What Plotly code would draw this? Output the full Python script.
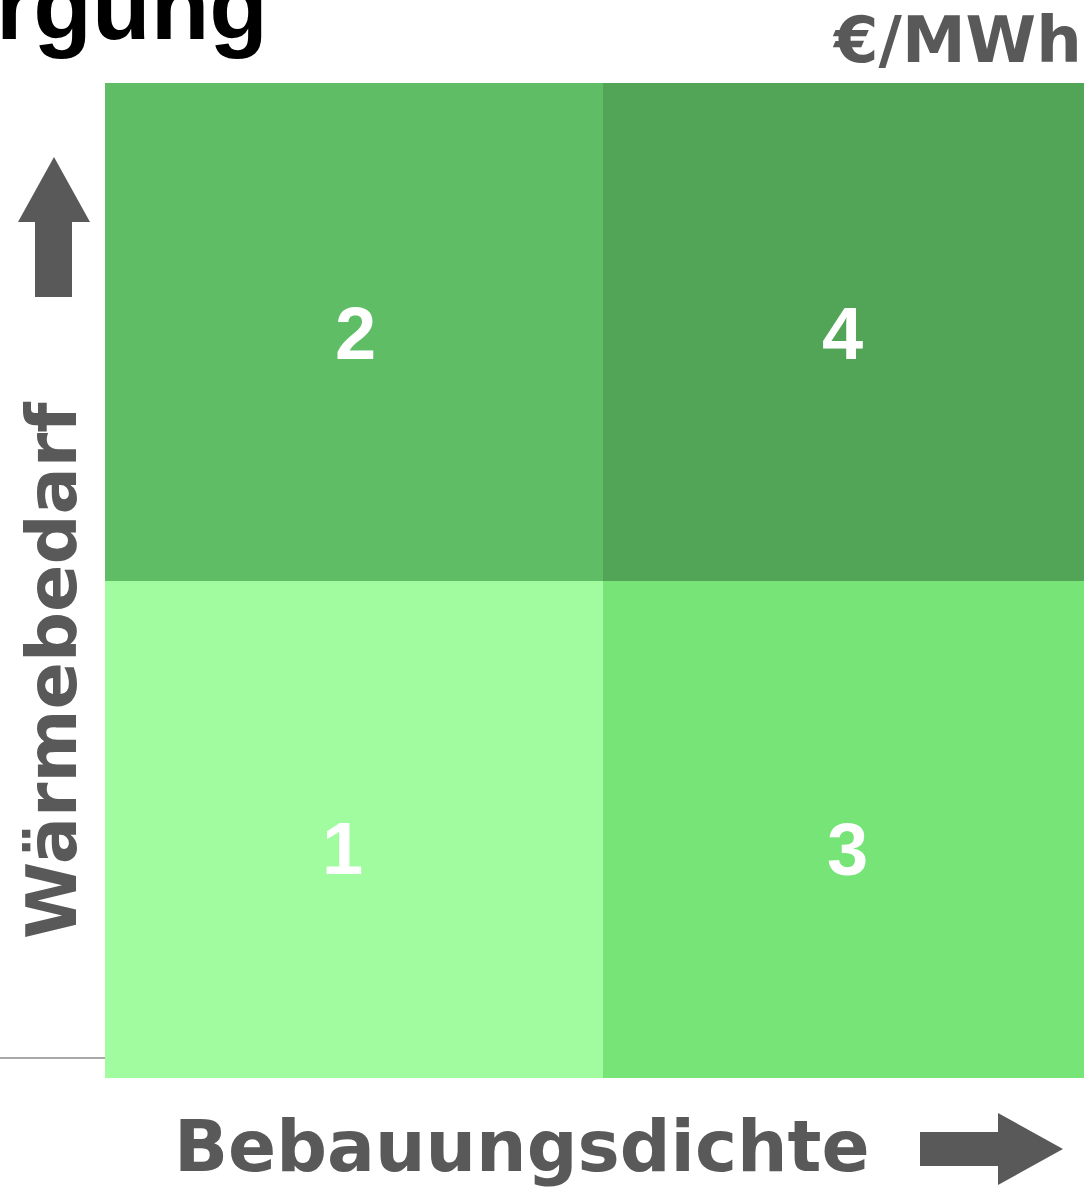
import plotly.graph_objects as go

# ---- data ----
bebauungsdichte = ["niedrig", "hoch"]          # x categories (left -> right)
waermebedarf = ["niedrig", "hoch"]             # y categories (bottom -> top)
quadrant = [[1, 3],                            # row: Wärmebedarf niedrig
            [2, 4]]                            # row: Wärmebedarf hoch
quadrant_colors = {1: "#a0fc9f", 2: "#5fbd65", 3: "#77e477", 4: "#52a457"}
title_fragment = "rgung"
unit_label = "€/MWh"
x_label = "Bebauungsdichte"
y_label = "Wärmebedarf"

# ---- layout constants ----
W, H = 1084, 1189
L, R, T, B = 105, 0, 83, 111
PW, PH = W - L - R, H - T - B
GRAY = "#595959"


def px(x):
    return (x - L) / PW


def py(y):
    return (H - B - y) / PH


# discrete colour scale for quadrant ids 1..4
cs = []
n = len(quadrant_colors)
for k in range(1, n + 1):
    cs.append([(k - 1) / n, quadrant_colors[k]])
    cs.append([k / n, quadrant_colors[k]])

fig = go.Figure(go.Heatmap(
    x=bebauungsdichte, y=waermebedarf, z=quadrant,
    colorscale=cs, zmin=0.5, zmax=n + 0.5, showscale=False,
    hoverinfo="skip", xgap=0, ygap=0,
))

# quadrant numbers
shift = {1: (-11, -19), 2: (2, -2), 3: (-4, -20), 4: (-9, -2)}
annotations = []
for j, yc in enumerate(waermebedarf):
    for i, xc in enumerate(bebauungsdichte):
        q = quadrant[j][i]
        annotations.append(dict(
            x=xc, y=yc, xref="x", yref="y", text=f"<b>{q}</b>", showarrow=False,
            xshift=shift[q][0], yshift=shift[q][1],
            font=dict(family="Liberation Sans", size=74, color="white"),
        ))

# title fragment (cut off at top-left, as in the reference)
annotations.append(dict(
    x=px(270), y=py(6), xref="paper", yref="paper", xanchor="right", yanchor="middle",
    text=f"<b>{title_fragment}</b>", showarrow=False,
    font=dict(family="Liberation Sans", size=96, color="black"),
))
# unit
annotations.append(dict(
    x=px(1084), y=py(40), xref="paper", yref="paper", xanchor="right", yanchor="middle",
    text=f"<b>{unit_label}</b>", showarrow=False,
    font=dict(family="DejaVu Sans", size=64, color=GRAY),
))
# x label
annotations.append(dict(
    x=px(522), y=py(1146), xref="paper", yref="paper", xanchor="center", yanchor="middle",
    text=f"<b>{x_label}</b>", showarrow=False,
    font=dict(family="DejaVu Sans", size=71, color=GRAY),
))
# y label
annotations.append(dict(
    x=px(52), y=py(670), xref="paper", yref="paper", xanchor="center", yanchor="middle",
    text=f"<b>{y_label}</b>", showarrow=False, textangle=-90,
    font=dict(family="DejaVu Sans", size=70, color=GRAY),
))


def path(points):
    return "M " + " L ".join(f"{px(a):.5f},{py(b):.5f}" for a, b in points) + " Z"


shapes = [
    # up arrow
    dict(type="path", xref="paper", yref="paper", line=dict(width=0), fillcolor=GRAY,
         path=path([(35, 297), (35, 222), (18, 222), (54, 157), (90, 222), (72, 222), (72, 297)])),
    # right arrow
    dict(type="path", xref="paper", yref="paper", line=dict(width=0), fillcolor=GRAY,
         path=path([(920, 1132), (998, 1132), (998, 1113), (1063, 1149), (998, 1185), (998, 1166), (920, 1166)])),
    # thin line bottom-left
    dict(type="line", xref="paper", yref="paper", x0=px(0), x1=px(105), y0=py(1058), y1=py(1058),
         line=dict(color="#8c8c8c", width=1.3)),
]

fig.update_layout(
    width=W, height=H, margin=dict(l=L, r=R, t=T, b=B, pad=0),
    paper_bgcolor="white", plot_bgcolor="white",
    xaxis=dict(visible=False, range=[-0.5, -0.5 + PW / (PH / 2)], fixedrange=True),
    yaxis=dict(visible=False, range=[-0.5, 1.5], fixedrange=True),
    annotations=annotations, shapes=shapes, showlegend=False,
)

fig.write_html("out.html")
